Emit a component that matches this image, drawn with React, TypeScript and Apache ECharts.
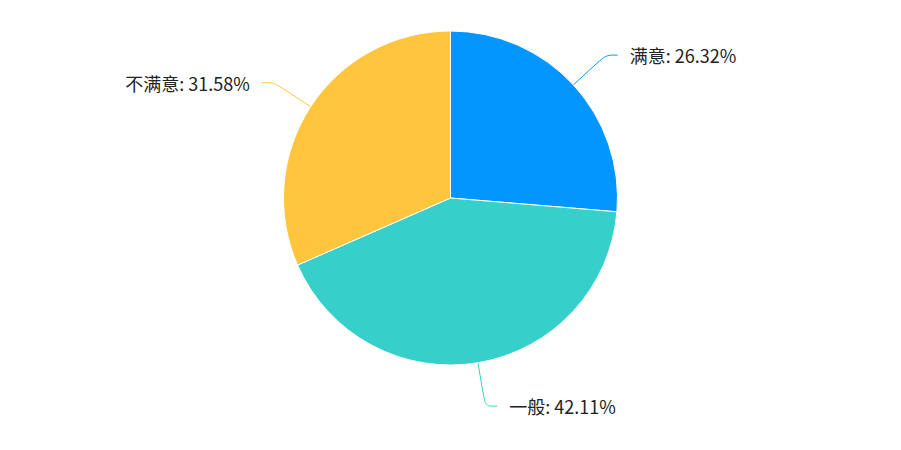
import React, { useEffect, useRef } from "react";
import * as echarts from "echarts";

const categories = ["满意", "一般", "不满意"];
const values = [5, 8, 6];
const colors = ["#0396FF", "#36CFC9", "#FFC53D"];

export default function App() {
  const ref = useRef<HTMLDivElement>(null);
  useEffect(() => {
    document.body.style.margin = "0";
    const total = values.reduce((a, b) => a + b, 0);
    const chart = echarts.init(ref.current!, null, { renderer: "svg" });
    chart.setOption({
      animation: false,
      color: colors,
      series: [
        {
          type: "pie",
          center: ["50%", "44%"],
          radius: 167,
          startAngle: 90,
          itemStyle: { borderColor: "#fff", borderWidth: 1 },
          label: {
            formatter: (p: any) => `${p.name}: ${((p.value / total) * 100).toFixed(2)}%`,
            fontSize: 18,
            color: "#222",
            distanceToLabelLine: 12,
            fontFamily: "'Noto Sans CJK SC', sans-serif",
          },
          labelLine: { smooth: true, length: 44, length2: 12 },
          data: categories.map((name, i) => ({ name, value: values[i] })),
        },
      ],
    });
    return () => chart.dispose();
  }, []);
  return <div ref={ref} style={{ width: 901, height: 450 }} />;
}
